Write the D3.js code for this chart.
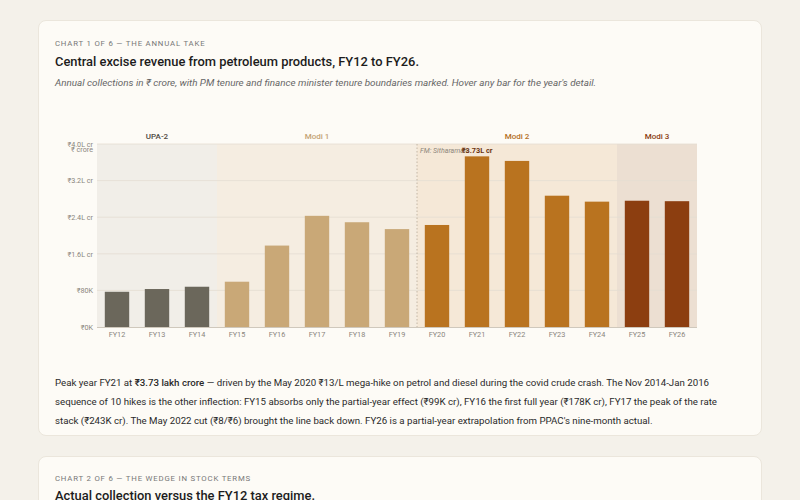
<!DOCTYPE html>
<html lang="en">
<head>
<meta charset="UTF-8">
<title>Central excise revenue</title>
<script src="https://d3js.org/d3.v7.min.js"></script>
<style>
  html, body { margin: 0; padding: 0; background: #f4f1ea; }
  body { width: 800px; height: 500px; overflow: hidden; font-family: Roboto, "Noto Sans", sans-serif; }
  .card { position: absolute; left: 38px; width: 724px; background: #fdfbf6; border: 1px solid #ebe6dc; border-radius: 8px; box-sizing: border-box; }
  .kicker { position: absolute; left: 16px; font-size: 7.8px; letter-spacing: 0.8px; color: #777; text-transform: uppercase; }
  .title { position: absolute; left: 16px; font-size: 12.9px; font-weight: 500; color: #1c1c1c; white-space: nowrap; }
  .sub { position: absolute; left: 16px; font-size: 9.9px; font-style: italic; color: #666; white-space: nowrap; }
  .note { position: absolute; left: 16px; width: 670px; font-size: 9.7px; line-height: 19px; color: #2a2a2a; }
  .note b { font-weight: 500; }
  svg { position: absolute; left: 0; top: 0; }
</style>
</head>
<body>
<div class="card" style="top:20px;height:416px;">
  <div class="kicker" style="top:18px;">Chart 1 of 6 — The annual take</div>
  <div class="title" style="top:33px;">Central excise revenue from petroleum products, FY12 to FY26.</div>
  <div class="sub" style="top:56px;">Annual collections in ₹ crore, with PM tenure and finance minister tenure boundaries marked. Hover any bar for the year's detail.</div>
  <div class="note" style="top:352px;">Peak year FY21 at <b>₹3.73 lakh crore</b> — driven by the May 2020 ₹13/L mega-hike on petrol and diesel during the covid crude crash. The Nov 2014-Jan 2016 sequence of 10 hikes is the other inflection: FY15 absorbs only the partial-year effect (₹99K cr), FY16 the first full year (₹178K cr), FY17 the peak of the rate stack (₹243K cr). The May 2022 cut (₹8/₹6) brought the line back down. FY26 is a partial-year extrapolation from PPAC's nine-month actual.</div>
</div>
<div class="card" style="top:456px;height:80px;">
  <div class="kicker" style="top:17px;">Chart 2 of 6 — The wedge in stock terms</div>
  <div class="title" style="top:31px;">Actual collection versus the FY12 tax regime.</div>
</div>
<svg id="chart" width="800" height="500"></svg>
<script>
  // years and collections (₹ crore)
  const years = ["FY12","FY13","FY14","FY15","FY16","FY17","FY18","FY19","FY20","FY21","FY22","FY23","FY24","FY25","FY26"];
  const revenue = [77000, 83000, 88000, 99000, 178000, 243000, 229000, 214000, 223000, 373000, 363000, 287000, 274000, 276000, 275000];
  const tenure = ["UPA-2","UPA-2","UPA-2","Modi 1","Modi 1","Modi 1","Modi 1","Modi 1","Modi 2","Modi 2","Modi 2","Modi 2","Modi 2","Modi 3","Modi 3"];

  const periods = ["UPA-2", "Modi 1", "Modi 2", "Modi 3"];
  const periodBar = ["#6b675b", "#c9a877", "#b9731f", "#8c3e10"];
  const periodBg = ["#f1eee8", "#f5ede1", "#f5e8d7", "#ecdfd2"];
  const periodLabel = ["#4f4a43", "#c4a274", "#b36e1e", "#8a3b12"];

  const yTicks = [0, 80000, 160000, 240000, 320000, 400000];
  const yTickLabels = ["₹0K", "₹80K", "₹1.6L cr", "₹2.4L cr", "₹3.2L cr", "₹4.0L cr"];

  const fmStart = "FY20";

  const mLeft = 97, mRight = 697, mTop = 144, mBottom = 327;
  const svg = d3.select("#chart");

  const x = d3.scaleBand().domain(years).range([mLeft, mRight]).paddingInner(0.39).paddingOuter(0.195);
  const xb = d3.scaleBand().domain(years).range([mLeft, mRight]); // full bands
  const y = d3.scaleLinear().domain([0, 400000]).range([mBottom, mTop]);
  const pColor = d3.scaleOrdinal().domain(periods).range(periodBar);

  // tenure background blocks
  periods.forEach((p, i) => {
    const ys = years.filter((d, j) => tenure[j] === p);
    const x0 = xb(ys[0]), x1 = xb(ys[ys.length - 1]) + xb.bandwidth();
    svg.append("rect").attr("x", x0).attr("y", mTop).attr("width", x1 - x0).attr("height", mBottom - mTop)
      .attr("fill", periodBg[i]);
    svg.append("text").attr("x", (x0 + x1) / 2).attr("y", mTop - 5.5).attr("text-anchor", "middle")
      .attr("font-size", 8).attr("font-weight", 500).attr("fill", periodLabel[i]).text(p);
  });

  // gridlines + y labels
  svg.append("g").selectAll("line").data(yTicks.slice(1)).join("line")
    .attr("x1", mLeft).attr("x2", mRight).attr("y1", d => y(d)).attr("y2", d => y(d))
    .attr("stroke", "#e4ddd2").attr("stroke-width", 0.8);

  const yAxis = svg.append("g").attr("transform", `translate(${mLeft - 4},0)`)
    .call(d3.axisLeft(y).tickValues(yTicks).tickFormat((d, i) => yTickLabels[i]).tickSize(0).tickPadding(0));
  yAxis.select(".domain").remove();
  yAxis.selectAll("text").attr("font-size", 7.2).attr("fill", "#8a857c").attr("font-family", "Roboto, sans-serif");
  svg.append("text").attr("x", mLeft - 4).attr("y", mTop + 8).attr("text-anchor", "end")
    .attr("font-size", 7.2).attr("fill", "#8a857c").text("₹ crore");

  // FM boundary
  const fx = xb(fmStart);
  svg.append("line").attr("x1", fx).attr("x2", fx).attr("y1", mTop).attr("y2", mBottom)
    .attr("stroke", "#b5aa98").attr("stroke-width", 0.8).attr("stroke-dasharray", "1.5,2");
  svg.append("text").attr("x", fx + 3).attr("y", mTop + 8.5).attr("font-size", 7).attr("font-style", "italic")
    .attr("fill", "#8e877b").text("FM: Sitharaman");

  // bars
  svg.append("g").selectAll("rect").data(years).join("rect")
    .attr("x", d => x(d)).attr("width", x.bandwidth())
    .attr("y", (d, i) => y(revenue[i])).attr("height", (d, i) => mBottom - y(revenue[i]))
    .attr("fill", (d, i) => pColor(tenure[i]));

  // peak label
  const pk = d3.maxIndex(revenue);
  svg.append("text").attr("x", x(years[pk]) + x.bandwidth() / 2).attr("y", mTop + 8.5).attr("text-anchor", "middle")
    .attr("font-size", 7.3).attr("font-weight", 700).attr("fill", "#6b3410")
    .text("₹" + (revenue[pk] / 100000).toFixed(2) + "L cr");

  // x axis
  const xAxis = svg.append("g").attr("transform", `translate(0,${mBottom})`)
    .call(d3.axisBottom(x).tickSize(0).tickPadding(5));
  xAxis.select(".domain").attr("stroke", "#cfc8bc").attr("d", `M${mLeft},0.5H${mRight}`);
  xAxis.selectAll("text").attr("font-size", 7.3).attr("fill", "#8a857c").attr("font-family", "Roboto, sans-serif");
</script>
</body>
</html>
